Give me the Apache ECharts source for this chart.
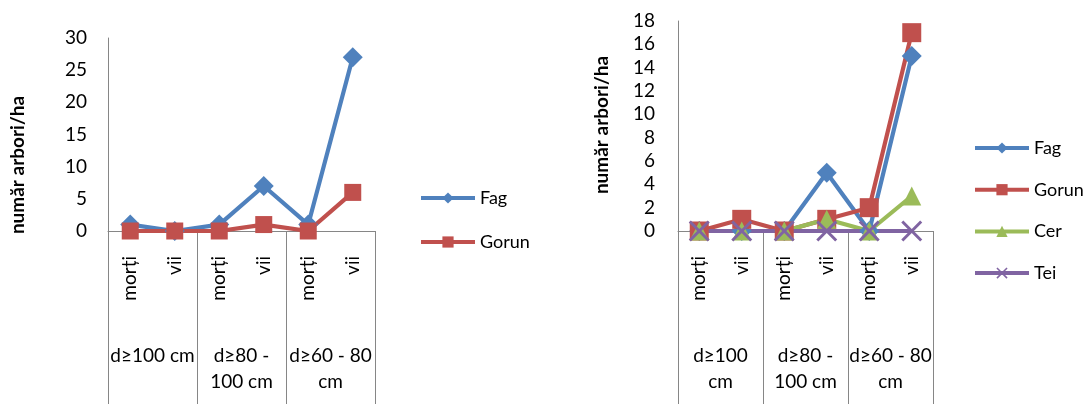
<!DOCTYPE html>
<html>
<head>
<meta charset="utf-8">
<script src="https://cdn.jsdelivr.net/npm/echarts@6/dist/echarts.min.js"></script>
<style>
  html, body { margin: 0; padding: 0; background: #fff; }
  #chart { width: 1086px; height: 404px; }
</style>
</head>
<body>
<div id="chart"></div>
<script>
// Sub-categories (bottom level of the category axis) and diameter classes (top level)
const subCategories = ['morți', 'vii', 'morți', 'vii', 'morți', 'vii'];
const leftGroups = ['d≥100 cm', 'd≥80 -\n100 cm', 'd≥60 - 80\ncm'];
const rightGroups = ['d≥100\ncm', 'd≥80 -\n100 cm', 'd≥60 - 80\ncm'];

// Left panel: trees per hectare
const leftFag = [1, 0, 1, 7, 1, 27];
const leftGorun = [0, 0, 0, 1, 0, 6];

// Right panel: trees per hectare
const rightFag = [0, 0, 0, 5, 0, 15];
const rightGorun = [0, 1, 0, 1, 2, 17];
const rightCer = [0, 0, 0, 1, 0, 3];
const rightTei = [0, 0, 0, 0, 0, 0];

const yTitle = 'număr arbori/ha';

const FONT = 'Lato, "Liberation Sans", sans-serif';
const AXIS_GRAY = '#868686';
const COLORS = { Fag: '#4F81BD', Gorun: '#C0504D', Cer: '#9BBB59', Tei: '#8064A2' };
const X_SYMBOL = 'path://M0,1L1,0L5,4L9,0L10,1L6,5L10,9L9,10L5,6L1,10L0,9L4,5Z';

const chart = echarts.init(document.getElementById('chart'), null, { renderer: 'canvas' });

function subAxis(gridIndex) {
  return {
    type: 'category', gridIndex, position: 'bottom', data: subCategories,
    boundaryGap: true,
    axisLine: { show: true, lineStyle: { color: AXIS_GRAY, width: 1 } },
    axisTick: { show: false },
    axisLabel: { rotate: 90, margin: 25, color: '#000', fontFamily: FONT, fontSize: 19, interval: 0 }
  };
}
function groupAxis(gridIndex, groups) {
  return {
    type: 'category', gridIndex, position: 'bottom', data: groups,
    boundaryGap: true,
    axisLine: { show: false },
    axisTick: { show: true, length: 175, interval: 0, lineStyle: { color: AXIS_GRAY, width: 1 } },
    axisLabel: { margin: 112, color: '#000', fontFamily: FONT, fontSize: 19, lineHeight: 26, interval: 0, align: 'center' }
  };
}
function valueAxis(gridIndex, max, interval, margin) {
  return {
    type: 'value', gridIndex, min: 0, max, interval,
    axisLine: { show: true, lineStyle: { color: AXIS_GRAY, width: 1 } },
    axisTick: { show: false },
    splitLine: { show: false },
    axisLabel: { margin, color: '#000', fontFamily: FONT, fontSize: 19 }
  };
}
function lineSeries(name, data, axisIdx, symbol, size) {
  return {
    name, type: 'line', data,
    xAxisIndex: axisIdx, yAxisIndex: axisIdx,
    symbol, symbolSize: size, showSymbol: true,
    lineStyle: { color: COLORS[name], width: 4.2 },
    itemStyle: { color: COLORS[name] },
    emphasis: { disabled: true },
    animation: false
  };
}
function legend(names, left, top, gap) {
  return {
    data: names, orient: 'vertical', left, top,
    itemWidth: 54, itemHeight: 14, itemGap: gap,
    lineStyle: { width: 4 },
    textStyle: { fontFamily: FONT, fontSize: 18, color: '#000', lineHeight: 20, padding: [0, 0, 0, 0] },
    selectedMode: false
  };
}

chart.setOption({
  backgroundColor: '#fff',
  animation: false,
  grid: [
    { left: 108, top: 38, width: 267, height: 193 },
    { left: 678, top: 21, width: 255, height: 210 }
  ],
  xAxis: [
    subAxis(0), subAxis(1),
    groupAxis(0, leftGroups), groupAxis(1, rightGroups)
  ],
  yAxis: [
    valueAxis(0, 30, 5, 21),
    valueAxis(1, 18, 2, 23),
    { gridIndex: 0, show: false }, { gridIndex: 1, show: false }
  ],
  legend: [
    legend(['Fag', 'Gorun'], 414, 183, 24),
    legend(['Fag', 'Gorun', 'Cer', 'Tei'], 968, 133, 21.7)
  ],
  graphic: [
    {
      type: 'text', x: 18, y: 165, rotation: Math.PI / 2,
      style: { text: yTitle, font: 'bold 19px ' + FONT, fill: '#000', textAlign: 'center', textVerticalAlign: 'middle' }
    },
    {
      type: 'text', x: 602, y: 125, rotation: Math.PI / 2,
      style: { text: yTitle, font: 'bold 19px ' + FONT, fill: '#000', textAlign: 'center', textVerticalAlign: 'middle' }
    }
  ],
  series: [
    lineSeries('Fag', leftFag, 0, 'diamond', 20),
    lineSeries('Gorun', leftGorun, 0, 'rect', 17),
    lineSeries('Fag', rightFag, 1, 'diamond', 20),
    lineSeries('Gorun', rightGorun, 1, 'rect', 19),
    lineSeries('Cer', rightCer, 1, 'triangle', 19),
    lineSeries('Tei', rightTei, 1, X_SYMBOL, 21)
  ]
});
</script>
</body>
</html>
